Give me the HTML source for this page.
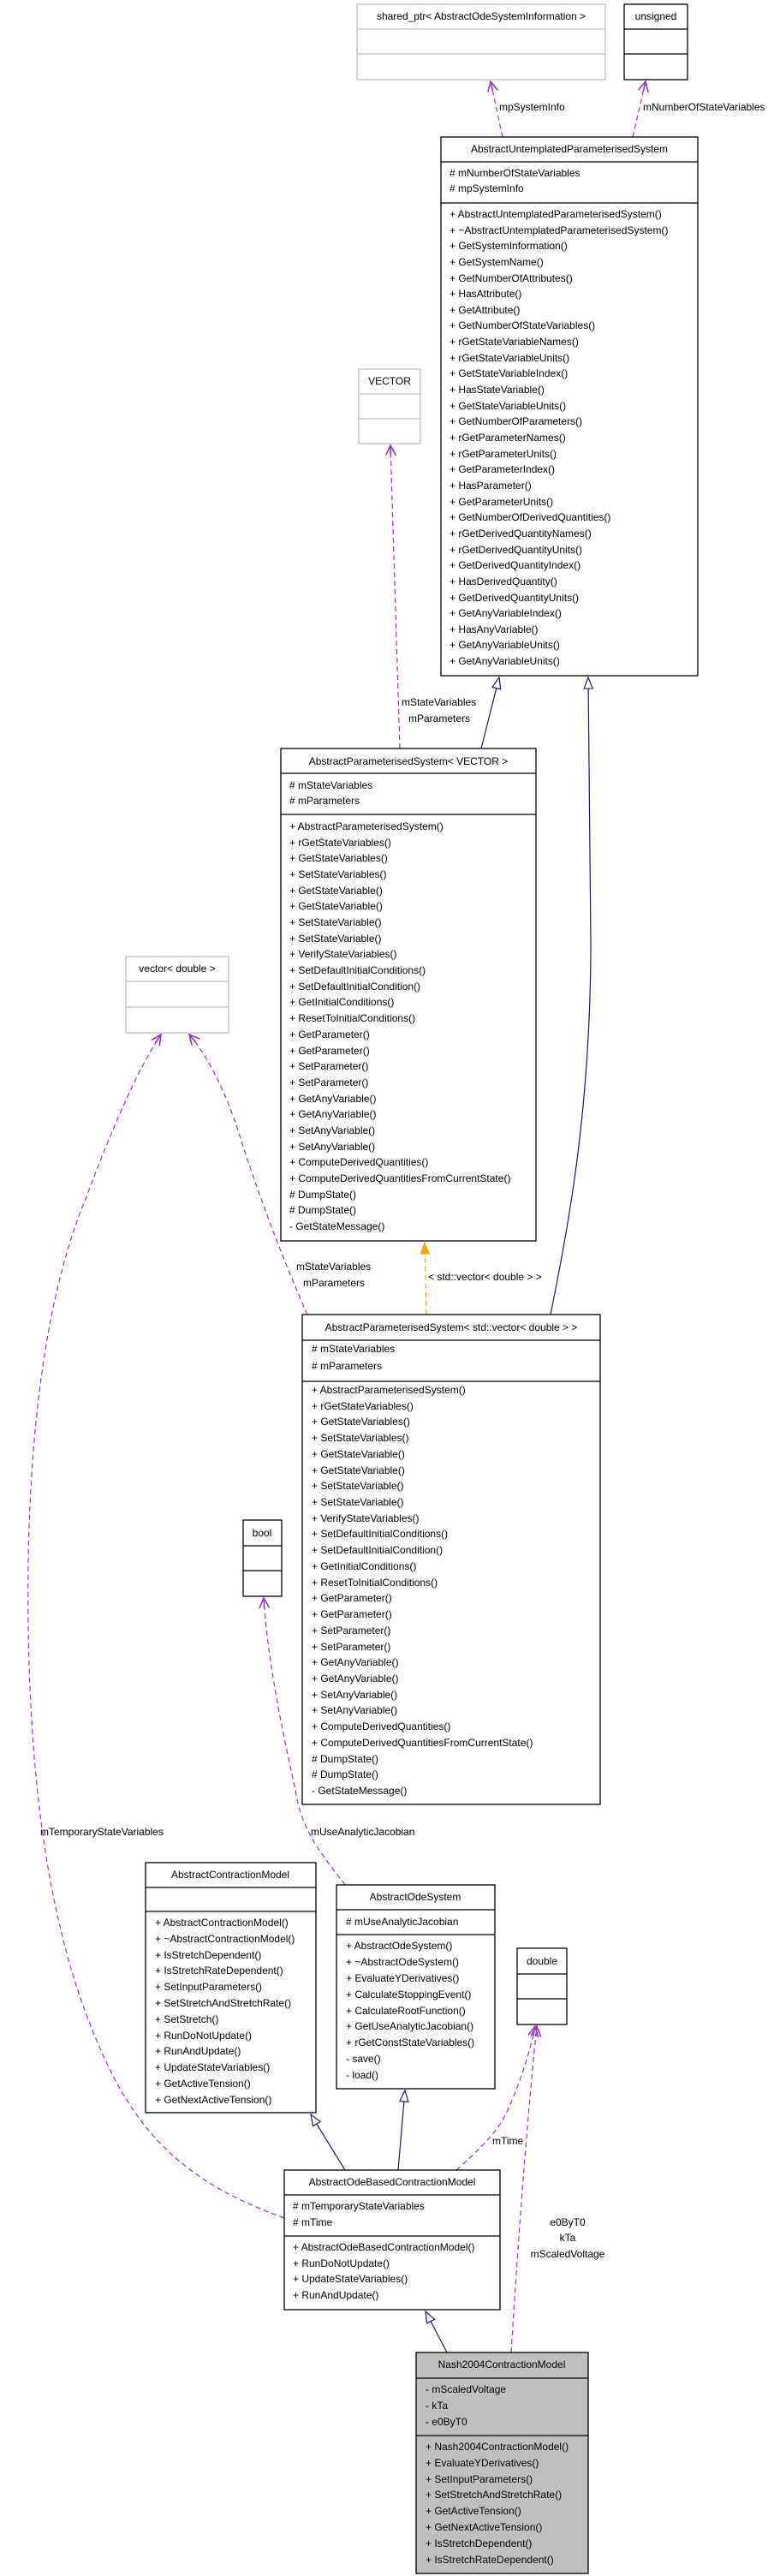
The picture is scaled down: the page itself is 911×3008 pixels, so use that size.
<!DOCTYPE html>
<html><head><meta charset="utf-8"><style>
html,body{margin:0;padding:0;background:#fff;}
svg{display:block;}
text{font-family:"Liberation Sans",Arial,sans-serif;font-size:12px;fill:#000;}
.c{text-anchor:middle;}
.b{fill:#fff;stroke:#000;stroke-width:1.3;}
.g{fill:#fff;stroke:#bfbfbf;stroke-width:1.3;}
.ln{stroke:#000;stroke-width:1.3;}
.lg{stroke:#bfbfbf;stroke-width:1.3;}
.p{fill:none;stroke:#9a32cd;stroke-width:1.2;stroke-dasharray:6,4;}
.n{fill:none;stroke:#191970;stroke-width:1.2;}
.o{fill:none;stroke:#ffa500;stroke-width:1.2;stroke-dasharray:6,4;}
</style></head><body>
<svg width="911" height="3008" viewBox="0 0 911 3008" xmlns="http://www.w3.org/2000/svg">
<defs>
<marker id="pv" markerWidth="14" markerHeight="14" refX="12" refY="6" orient="auto" markerUnits="userSpaceOnUse">
<path d="M0,0 L12,6 L0,12 M12,6 L0,6" fill="none" stroke="#9a32cd" stroke-width="1.6"/>
</marker>
<marker id="tri" markerWidth="16" markerHeight="14" refX="14" refY="6" orient="auto" markerUnits="userSpaceOnUse">
<path d="M1,1 L14,6 L1,11 Z" fill="#fff" stroke="#191970" stroke-width="1.2"/>
</marker>
<marker id="ot" markerWidth="16" markerHeight="14" refX="14" refY="6" orient="auto" markerUnits="userSpaceOnUse">
<path d="M1,1 L14,6 L1,11 Z" fill="#ffa500" stroke="#ffa500" stroke-width="1"/>
</marker>
</defs>

<!-- edges -->
<path class="p" d="M587,160 L573,95" marker-end="url(#pv)"/>
<text x="583" y="129">mpSystemInfo</text>
<path class="p" d="M739,160 L754,95" marker-end="url(#pv)"/>
<text x="751" y="129">mNumberOfStateVariables</text>

<path class="p" d="M467,874 L456,520" marker-end="url(#pv)"/>
<text x="469" y="824">mStateVariables</text>
<text x="477" y="843">mParameters</text>

<path class="n" d="M562,874 L583,791" marker-end="url(#tri)"/>
<path class="n" d="M643,1535 C662,1440 690,1300 690,1100 L687,791" marker-end="url(#tri)"/>

<path class="o" d="M498,1535 L496,1451" marker-end="url(#ot)"/>
<text x="500" y="1495">&lt; std::vector&lt; double &gt; &gt;</text>

<path class="p" d="M359,1535 C330,1470 300,1390 279,1323 C262,1270 240,1230 221,1208" marker-end="url(#pv)"/>
<text x="346" y="1483">mStateVariables</text>
<text x="354" y="1502">mParameters</text>

<path class="p" d="M332,2590 C250,2560 180,2520 130,2420 C60,2280 36,2100 33,1900 C30,1700 50,1520 100,1400 C130,1320 160,1250 188,1208" marker-end="url(#pv)"/>
<text x="47" y="2143">mTemporaryStateVariables</text>

<path class="p" d="M403,2201 C380,2170 352,2140 345,2090 C325,2000 312,1930 308,1866" marker-end="url(#pv)"/>
<text x="363" y="2143">mUseAnalyticJacobian</text>

<path class="n" d="M403,2534 L363,2469" marker-end="url(#tri)"/>
<path class="n" d="M465,2534 L473,2441" marker-end="url(#tri)"/>

<path class="p" d="M533,2534 C560,2510 580,2490 590,2470 C605,2440 618,2400 625,2366" marker-end="url(#pv)"/>
<text x="575" y="2504">mTime</text>
<path class="p" d="M597,2747 C605,2620 615,2480 627,2366" marker-end="url(#pv)"/>
<text x="663" y="2599" class="c">e0ByT0</text>
<text x="663" y="2617" class="c">kTa</text>
<text x="663" y="2636" class="c">mScaledVoltage</text>

<path class="n" d="M522,2747 L497,2699" marker-end="url(#tri)"/>

<!-- shared_ptr -->
<rect class="g" x="417" y="5" width="290" height="88"/>
<line class="lg" x1="417" y1="34" x2="707" y2="34"/><line class="lg" x1="417" y1="63" x2="707" y2="63"/>
<text x="562" y="23" class="c">shared_ptr&lt; AbstractOdeSystemInformation &gt;</text>

<!-- unsigned -->
<rect class="b" x="729" y="5" width="74" height="88"/>
<line class="ln" x1="729" y1="34" x2="803" y2="34"/><line class="ln" x1="729" y1="63" x2="803" y2="63"/>
<text x="766" y="23" class="c">unsigned</text>

<!-- AUPS -->
<rect class="b" x="515" y="160" width="300" height="629"/>
<line class="ln" x1="515" y1="189" x2="815" y2="189"/><line class="ln" x1="515" y1="237" x2="815" y2="237"/>
<text x="665" y="178" class="c">AbstractUntemplatedParameterisedSystem</text>
<text x="525" y="206"># mNumberOfStateVariables</text>
<text x="525" y="224"># mpSystemInfo</text>
<text x="525" y="254">+ AbstractUntemplatedParameterisedSystem()</text>
<text x="525" y="273">+ ~AbstractUntemplatedParameterisedSystem()</text>
<text x="525" y="291">+ GetSystemInformation()</text>
<text x="525" y="310">+ GetSystemName()</text>
<text x="525" y="329">+ GetNumberOfAttributes()</text>
<text x="525" y="347">+ HasAttribute()</text>
<text x="525" y="366">+ GetAttribute()</text>
<text x="525" y="384">+ GetNumberOfStateVariables()</text>
<text x="525" y="403">+ rGetStateVariableNames()</text>
<text x="525" y="422">+ rGetStateVariableUnits()</text>
<text x="525" y="440">+ GetStateVariableIndex()</text>
<text x="525" y="459">+ HasStateVariable()</text>
<text x="525" y="478">+ GetStateVariableUnits()</text>
<text x="525" y="496">+ GetNumberOfParameters()</text>
<text x="525" y="515">+ rGetParameterNames()</text>
<text x="525" y="534">+ rGetParameterUnits()</text>
<text x="525" y="552">+ GetParameterIndex()</text>
<text x="525" y="571">+ HasParameter()</text>
<text x="525" y="590">+ GetParameterUnits()</text>
<text x="525" y="608">+ GetNumberOfDerivedQuantities()</text>
<text x="525" y="627">+ rGetDerivedQuantityNames()</text>
<text x="525" y="646">+ rGetDerivedQuantityUnits()</text>
<text x="525" y="664">+ GetDerivedQuantityIndex()</text>
<text x="525" y="683">+ HasDerivedQuantity()</text>
<text x="525" y="702">+ GetDerivedQuantityUnits()</text>
<text x="525" y="720">+ GetAnyVariableIndex()</text>
<text x="525" y="739">+ HasAnyVariable()</text>
<text x="525" y="757">+ GetAnyVariableUnits()</text>
<text x="525" y="776">+ GetAnyVariableUnits()</text>

<!-- VECTOR -->
<rect class="g" x="419" y="431" width="72" height="87"/>
<line class="lg" x1="419" y1="460" x2="491" y2="460"/><line class="lg" x1="419" y1="489" x2="491" y2="489"/>
<text x="455" y="449" class="c">VECTOR</text>

<!-- APS<VECTOR> -->
<rect class="b" x="328" y="874" width="298" height="575"/>
<line class="ln" x1="328" y1="903" x2="626" y2="903"/><line class="ln" x1="328" y1="951" x2="626" y2="951"/>
<text x="477" y="893" class="c">AbstractParameterisedSystem&lt; VECTOR &gt;</text>
<text x="338" y="921"># mStateVariables</text>
<text x="338" y="939"># mParameters</text>
<text x="338" y="969">+ AbstractParameterisedSystem()</text>
<text x="338" y="988">+ rGetStateVariables()</text>
<text x="338" y="1006">+ GetStateVariables()</text>
<text x="338" y="1025">+ SetStateVariables()</text>
<text x="338" y="1044">+ GetStateVariable()</text>
<text x="338" y="1062">+ GetStateVariable()</text>
<text x="338" y="1081">+ SetStateVariable()</text>
<text x="338" y="1100">+ SetStateVariable()</text>
<text x="338" y="1118">+ VerifyStateVariables()</text>
<text x="338" y="1137">+ SetDefaultInitialConditions()</text>
<text x="338" y="1156">+ SetDefaultInitialCondition()</text>
<text x="338" y="1174">+ GetInitialConditions()</text>
<text x="338" y="1193">+ ResetToInitialConditions()</text>
<text x="338" y="1212">+ GetParameter()</text>
<text x="338" y="1231">+ GetParameter()</text>
<text x="338" y="1249">+ SetParameter()</text>
<text x="338" y="1268">+ SetParameter()</text>
<text x="338" y="1287">+ GetAnyVariable()</text>
<text x="338" y="1305">+ GetAnyVariable()</text>
<text x="338" y="1324">+ SetAnyVariable()</text>
<text x="338" y="1343">+ SetAnyVariable()</text>
<text x="338" y="1361">+ ComputeDerivedQuantities()</text>
<text x="338" y="1380">+ ComputeDerivedQuantitiesFromCurrentState()</text>
<text x="338" y="1399"># DumpState()</text>
<text x="338" y="1417"># DumpState()</text>
<text x="338" y="1436">- GetStateMessage()</text>

<!-- vector<double> -->
<rect class="g" x="147" y="1117" width="120" height="89"/>
<line class="lg" x1="147" y1="1146" x2="267" y2="1146"/><line class="lg" x1="147" y1="1176" x2="267" y2="1176"/>
<text x="207" y="1135" class="c">vector&lt; double &gt;</text>

<!-- APS<std::vector> -->
<rect class="b" x="353" y="1535" width="348" height="572"/>
<line class="ln" x1="353" y1="1565" x2="701" y2="1565"/><line class="ln" x1="353" y1="1613" x2="701" y2="1613"/>
<text x="527" y="1554" class="c">AbstractParameterisedSystem&lt; std::vector&lt; double &gt; &gt;</text>
<text x="364" y="1579"># mStateVariables</text>
<text x="364" y="1599"># mParameters</text>
<text x="364" y="1627">+ AbstractParameterisedSystem()</text>
<text x="364" y="1646">+ rGetStateVariables()</text>
<text x="364" y="1664">+ GetStateVariables()</text>
<text x="364" y="1683">+ SetStateVariables()</text>
<text x="364" y="1702">+ GetStateVariable()</text>
<text x="364" y="1721">+ GetStateVariable()</text>
<text x="364" y="1739">+ SetStateVariable()</text>
<text x="364" y="1758">+ SetStateVariable()</text>
<text x="364" y="1777">+ VerifyStateVariables()</text>
<text x="364" y="1795">+ SetDefaultInitialConditions()</text>
<text x="364" y="1814">+ SetDefaultInitialCondition()</text>
<text x="364" y="1833">+ GetInitialConditions()</text>
<text x="364" y="1852">+ ResetToInitialConditions()</text>
<text x="364" y="1870">+ GetParameter()</text>
<text x="364" y="1889">+ GetParameter()</text>
<text x="364" y="1908">+ SetParameter()</text>
<text x="364" y="1927">+ SetParameter()</text>
<text x="364" y="1945">+ GetAnyVariable()</text>
<text x="364" y="1964">+ GetAnyVariable()</text>
<text x="364" y="1983">+ SetAnyVariable()</text>
<text x="364" y="2001">+ SetAnyVariable()</text>
<text x="364" y="2020">+ ComputeDerivedQuantities()</text>
<text x="364" y="2039">+ ComputeDerivedQuantitiesFromCurrentState()</text>
<text x="364" y="2058"># DumpState()</text>
<text x="364" y="2076"># DumpState()</text>
<text x="364" y="2095">- GetStateMessage()</text>

<!-- bool -->
<rect class="b" x="284" y="1775" width="45" height="89"/>
<line class="ln" x1="284" y1="1805" x2="329" y2="1805"/><line class="ln" x1="284" y1="1834" x2="329" y2="1834"/>
<text x="306" y="1794" class="c">bool</text>

<!-- AbstractContractionModel -->
<rect class="b" x="170" y="2175" width="199" height="292"/>
<line class="ln" x1="170" y1="2204" x2="369" y2="2204"/><line class="ln" x1="170" y1="2232" x2="369" y2="2232"/>
<text x="269" y="2193" class="c">AbstractContractionModel</text>
<text x="181" y="2249">+ AbstractContractionModel()</text>
<text x="181" y="2268">+ ~AbstractContractionModel()</text>
<text x="181" y="2287">+ IsStretchDependent()</text>
<text x="181" y="2305">+ IsStretchRateDependent()</text>
<text x="181" y="2324">+ SetInputParameters()</text>
<text x="181" y="2343">+ SetStretchAndStretchRate()</text>
<text x="181" y="2362">+ SetStretch()</text>
<text x="181" y="2381">+ RunDoNotUpdate()</text>
<text x="181" y="2399">+ RunAndUpdate()</text>
<text x="181" y="2418">+ UpdateStateVariables()</text>
<text x="181" y="2437">+ GetActiveTension()</text>
<text x="181" y="2456">+ GetNextActiveTension()</text>

<!-- AbstractOdeSystem -->
<rect class="b" x="393" y="2201" width="185" height="238"/>
<line class="ln" x1="393" y1="2230" x2="578" y2="2230"/><line class="ln" x1="393" y1="2259" x2="578" y2="2259"/>
<text x="485" y="2219" class="c">AbstractOdeSystem</text>
<text x="404" y="2248"># mUseAnalyticJacobian</text>
<text x="404" y="2276">+ AbstractOdeSystem()</text>
<text x="404" y="2295">+ ~AbstractOdeSystem()</text>
<text x="404" y="2314">+ EvaluateYDerivatives()</text>
<text x="404" y="2333">+ CalculateStoppingEvent()</text>
<text x="404" y="2352">+ CalculateRootFunction()</text>
<text x="404" y="2370">+ GetUseAnalyticJacobian()</text>
<text x="404" y="2389">+ rGetConstStateVariables()</text>
<text x="404" y="2408">- save()</text>
<text x="404" y="2427">- load()</text>

<!-- double -->
<rect class="b" x="604" y="2275" width="58" height="89"/>
<line class="ln" x1="604" y1="2305" x2="662" y2="2305"/><line class="ln" x1="604" y1="2334" x2="662" y2="2334"/>
<text x="633" y="2294" class="c">double</text>

<!-- AOBCM -->
<rect class="b" x="332" y="2534" width="252" height="163"/>
<line class="ln" x1="332" y1="2563" x2="584" y2="2563"/><line class="ln" x1="332" y1="2611" x2="584" y2="2611"/>
<text x="458" y="2552" class="c">AbstractOdeBasedContractionModel</text>
<text x="342" y="2580"># mTemporaryStateVariables</text>
<text x="342" y="2599"># mTime</text>
<text x="342" y="2628">+ AbstractOdeBasedContractionModel()</text>
<text x="342" y="2647">+ RunDoNotUpdate()</text>
<text x="342" y="2665">+ UpdateStateVariables()</text>
<text x="342" y="2684">+ RunAndUpdate()</text>

<!-- Nash -->
<rect x="486" y="2747" width="201" height="258" fill="#bfbfbf" stroke="#000" stroke-width="1.3"/>
<line class="ln" x1="486" y1="2777" x2="687" y2="2777"/><line class="ln" x1="486" y1="2844" x2="687" y2="2844"/>
<text x="586" y="2765" class="c">Nash2004ContractionModel</text>
<text x="497" y="2794">- mScaledVoltage</text>
<text x="497" y="2813">- kTa</text>
<text x="497" y="2832">- e0ByT0</text>
<text x="497" y="2861">+ Nash2004ContractionModel()</text>
<text x="497" y="2880">+ EvaluateYDerivatives()</text>
<text x="497" y="2899">+ SetInputParameters()</text>
<text x="497" y="2917">+ SetStretchAndStretchRate()</text>
<text x="497" y="2936">+ GetActiveTension()</text>
<text x="497" y="2955">+ GetNextActiveTension()</text>
<text x="497" y="2974">+ IsStretchDependent()</text>
<text x="497" y="2993">+ IsStretchRateDependent()</text>
</svg>
</body></html>
